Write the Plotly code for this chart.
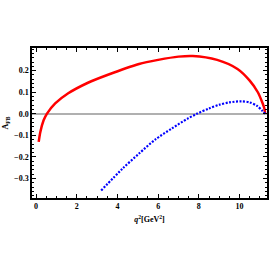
import plotly.graph_objects as go

# Red solid curve (A_FB, first case)
red_q2 = [0.13, 0.21, 0.37, 0.53, 0.94, 1.58, 2.55, 3.5, 5.06, 6.0, 7.0, 7.7, 8.9, 9.9, 10.5, 10.9, 11.13, 11.22, 11.26]
red_afb = [-0.13, -0.084, -0.03, 0.0, 0.048, 0.095, 0.144, 0.18, 0.231, 0.25, 0.265, 0.268, 0.25, 0.208, 0.154, 0.1, 0.05, 0.025, 0.0]

# Blue dotted curve (A_FB, second case)
blue_q2 = [3.2, 4.25, 5.06, 5.86, 6.67, 7.47, 7.9, 8.5, 9.0, 9.5, 10.1, 10.5, 10.86, 11.12, 11.26]
blue_afb = [-0.355, -0.254, -0.184, -0.119, -0.068, -0.021, 0.0, 0.025, 0.042, 0.053, 0.058, 0.053, 0.037, 0.014, 0.0]

x_ticks = [0, 2, 4, 6, 8, 10]
y_ticks = [-0.3, -0.2, -0.1, 0.0, 0.1, 0.2]

font_fam = "Liberation Serif"

fig = go.Figure()
fig.add_trace(go.Scatter(x=red_q2, y=red_afb, mode="lines",
                         line=dict(color="#ff0000", width=2.5, shape="spline", smoothing=0.8),
                         showlegend=False, cliponaxis=False))
fig.add_trace(go.Scatter(x=blue_q2, y=blue_afb, mode="lines",
                         line=dict(color="#0000ff", width=2.2, dash="2px,1.5px", shape="spline", smoothing=0.8),
                         showlegend=False, cliponaxis=False))

fig.update_layout(
    width=273, height=273,
    margin=dict(l=31, r=4, t=48, b=75),
    paper_bgcolor="white", plot_bgcolor="white",
    font=dict(family=font_fam, size=8, color="black", weight="bold"),
)
fig.update_xaxes(
    range=[-0.2, 11.35], tickvals=x_ticks, tickformat="d",
    tickfont=dict(family=font_fam, size=8, weight="bold"),
    showgrid=False, zeroline=False,
    showline=True, linecolor="black", linewidth=1.5, mirror="ticks",
    ticks="inside", ticklen=4, tickwidth=1, tickcolor="black",
    minor=dict(dtick=0.5, tick0=0, ticks="inside", ticklen=2, tickwidth=1, tickcolor="black", showgrid=False),
    title=dict(text="<i>q</i><sup>2</sup>[GeV<sup>2</sup>]", font=dict(family=font_fam, size=8, weight="bold"), standoff=6),
)
fig.update_yaxes(
    range=[-0.39, 0.305], tickvals=y_ticks, tickformat=".1f",
    tickfont=dict(family=font_fam, size=8, weight="bold"),
    showgrid=False, zeroline=True, zerolinecolor="#b0b0b0", zerolinewidth=1.5,
    showline=True, linecolor="black", linewidth=1.5, mirror="ticks",
    ticks="inside", ticklen=4, tickwidth=1, tickcolor="black",
    minor=dict(dtick=0.02, tick0=0, ticks="inside", ticklen=2, tickwidth=1, tickcolor="black", showgrid=False),
    title=dict(text="A<sub>FB</sub>", font=dict(family=font_fam, size=8, weight="bold"), standoff=4),
)

fig.write_html("out.html", config={"displayModeBar": False},
               post_script="document.body.style.margin='0';")
